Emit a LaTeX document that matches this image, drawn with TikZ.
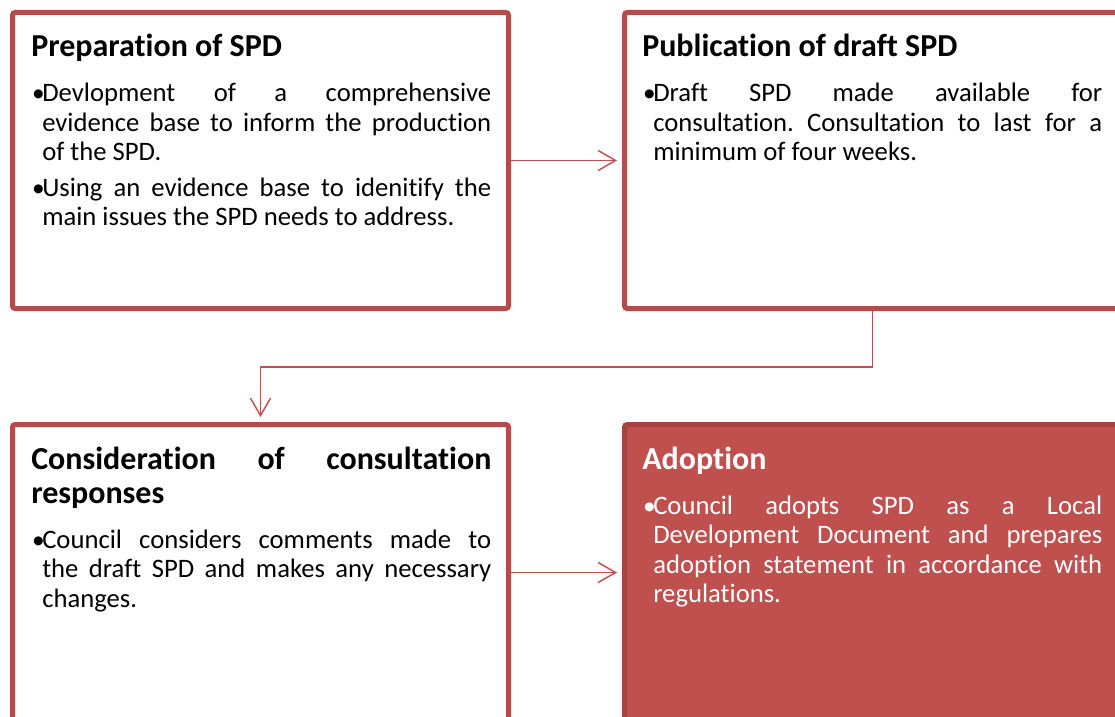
\documentclass[tikz,border=0pt]{standalone}
\usepackage{fontspec}
\setmainfont{Carlito}[Ligatures=NoCommon]
\usetikzlibrary{arrows.meta,positioning}

\definecolor{boxline}{RGB}{180,77,74}
\definecolor{boxfill}{RGB}{192,80,77}
\definecolor{boxdark}{RGB}{168,66,63}

% spaces may stretch but never shrink
\newcommand\noshrink{\fontdimen4\font=0pt\relax}
\newcommand\hd[1]{{\fontsize{24}{25.5}\selectfont\bfseries\noshrink #1\par}}
\newcommand\bul[2][11.75pt]{\par\vspace{#1}\noindent\hangindent=8.25pt\hangafter=1
  \makebox[8.25pt][l]{\hspace{0.6pt}\raisebox{0.3pt}{\fontsize{19}{19}\selectfont•}}#2\par}

\begin{document}
\begin{tikzpicture}[x=0.75pt, y=-0.75pt, >={Straight Barb[length=13pt,width=15pt]},
   stage/.style={rectangle, draw=boxline, line width=3.75pt, rounded corners=2pt,
      minimum width=372pt, minimum height=222pt},
   done/.style={fill=boxfill, draw=boxdark},
   txt/.style={anchor=base west, inner sep=0pt, text width=345pt, align=justify,
      font=\fontsize{20}{22}\selectfont,
      execute at begin node={\noshrink\frenchspacing\hyphenpenalty=10000\relax\tolerance=9999\relax}},
   conn/.style={draw=boxfill, line width=1.1pt, shorten >=3.75pt}]
   \useasboundingbox (0,0) rectangle (1115,717);

   \node (prep) at (260.5,160.5) [stage] {};
   \node (pub) at (872.5,160.5) [stage] {};
   \node (cons) at (260.5,572.5) [stage] {};
   \node (adopt) at (872.5,572.5) [stage, done] {};

   \node (prep-t) at (31,57) [txt] {\hd{Preparation of SPD}
\bul{Devlopment of a comprehensive evidence base to inform the production of the SPD.}
\bul[5pt]{Using an evidence base to idenitify the main issues the SPD needs to address.}};
   \node (pub-t) at (642,57) [txt] {\hd{Publication of draft SPD}
\bul{Draft SPD made available for consultation. Consultation to last for a minimum of four weeks.}};
   \node (cons-t) at (31,469.5) [txt] {\hd{Consideration of consultation responses}
\bul{Council considers comments made to the draft SPD and makes any necessary changes.}};
   \node (adopt-t) at (642,469.5) [txt, text=white] {\hd{Adoption}
\bul{Council adopts SPD as a Local Development Document and prepares adoption statement in accordance with regulations.}};

   \coordinate (turn) at (260.5,367);
   \draw (prep.east)[conn, ->] -- (pub.west);
   \draw (pub.south)[conn, ->] |- (turn) -- (cons.north);
   \draw (cons.east)[conn, ->] -- (adopt.west);

\end{tikzpicture}
\end{document}
